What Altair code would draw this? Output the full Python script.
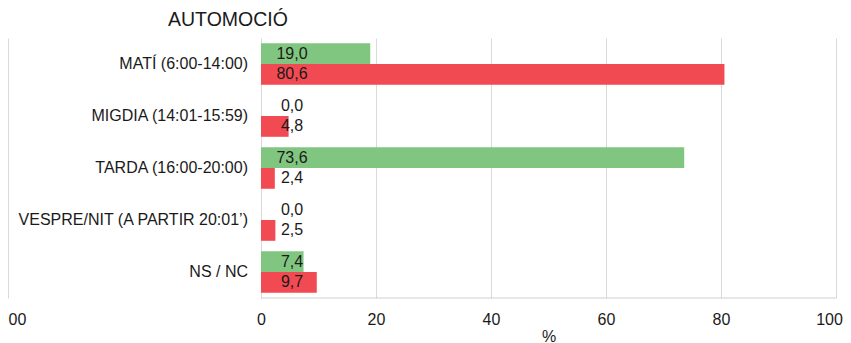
import altair as alt
import pandas as pd

categories = [
    "MATÍ (6:00-14:00)",
    "MIGDIA (14:01-15:59)",
    "TARDA (16:00-20:00)",
    "VESPRE/NIT (A PARTIR 20:01’)",
    "NS / NC",
]
series = ["Sèrie 1", "Sèrie 2"]
green_values = [19.0, 0.0, 73.6, 0.0, 7.4]
red_values = [80.6, 4.8, 2.4, 2.5, 9.7]
x_ticks = [0, 20, 40, 60, 80, 100]
left_panel_edge = -44

rows = []
for c, g, r in zip(categories, green_values, red_values):
    rows.append({"cat": c, "series": series[0], "value": g})
    rows.append({"cat": c, "series": series[1], "value": r})
df = pd.DataFrame(rows)

FONT = "Liberation Sans"
TXT = "#1a1a1a"

y_scale = alt.Scale(paddingInner=0.2, paddingOuter=0.1)
y_enc = alt.Y("cat:N", sort=categories, axis=None, scale=y_scale)
yoff_enc = alt.YOffset("series:N", sort=series,
                       scale=alt.Scale(paddingInner=0, paddingOuter=0))

x_axis = alt.Axis(
    values=[left_panel_edge] + x_ticks,
    grid=True, gridColor="#D9D9D9", gridWidth=1,
    domain=False, ticks=False,
    labelPadding=13, labelFontSize=16, labelColor=TXT, labelFont=FONT,
    labelExpr="datum.value < 0 ? '00' : datum.label",
    labelAlign={"condition": {"test": "datum.value < 0", "value": "left"}, "value": "center"},
    labelOffset={"condition": {"test": "datum.value >= 100", "value": -7}, "value": 0},
    title="%", titleX=540.5, titleY=30, titleBaseline="top",
    titleFontWeight="normal", titleFontSize=16, titleColor=TXT, titleFont=FONT,
)
x_scale = alt.Scale(domain=[left_panel_edge, 100], nice=False, zero=False)

base = alt.Chart(df)

bars = base.mark_bar().encode(
    x=alt.X("value:Q", scale=x_scale, axis=x_axis),
    x2=alt.datum(0),
    y=y_enc,
    yOffset=yoff_enc,
    color=alt.Color("series:N", sort=series, legend=None,
                    scale=alt.Scale(domain=series, range=["#80C680", "#F14A52"])),
)

values_text = base.transform_calculate(
    label="replace(format(datum.value, '.1f'), '.', ',')"
).mark_text(align="center", baseline="middle", fontSize=16, font=FONT, color=TXT).encode(
    x=alt.value(284),
    y=y_enc,
    yOffset=yoff_enc,
    text="label:N",
)

cat_text = alt.Chart(pd.DataFrame({"cat": categories})).mark_text(
    align="right", baseline="middle", fontSize=16, font=FONT, color=TXT
).encode(
    x=alt.value(240),
    y=y_enc,
    text="cat:N",
)

bottom_rule = alt.Chart(pd.DataFrame({"value": [0], "value_end": [100]})).mark_rule(
    color="#D0D0D0"
).encode(
    x=alt.X("value:Q", scale=x_scale, axis=x_axis),
    x2="value_end:Q",
    y=alt.value(260),
)

chart = alt.layer(bars, values_text, cat_text, bottom_rule).properties(
    width=828,
    height=260,
    autosize=alt.AutoSizeParams(type="none"),
    padding={"left": 0, "top": 30, "right": 7, "bottom": 45},
    title=alt.TitleParams(
        "AUTOMOCIÓ", anchor="start", frame="group", dx=160, offset=8,
        fontSize=19.5, fontWeight="normal", font=FONT, color=TXT,
    ),
).configure_view(stroke=None)

chart.save("out.html", embed_options={"renderer": "svg", "actions": False})
